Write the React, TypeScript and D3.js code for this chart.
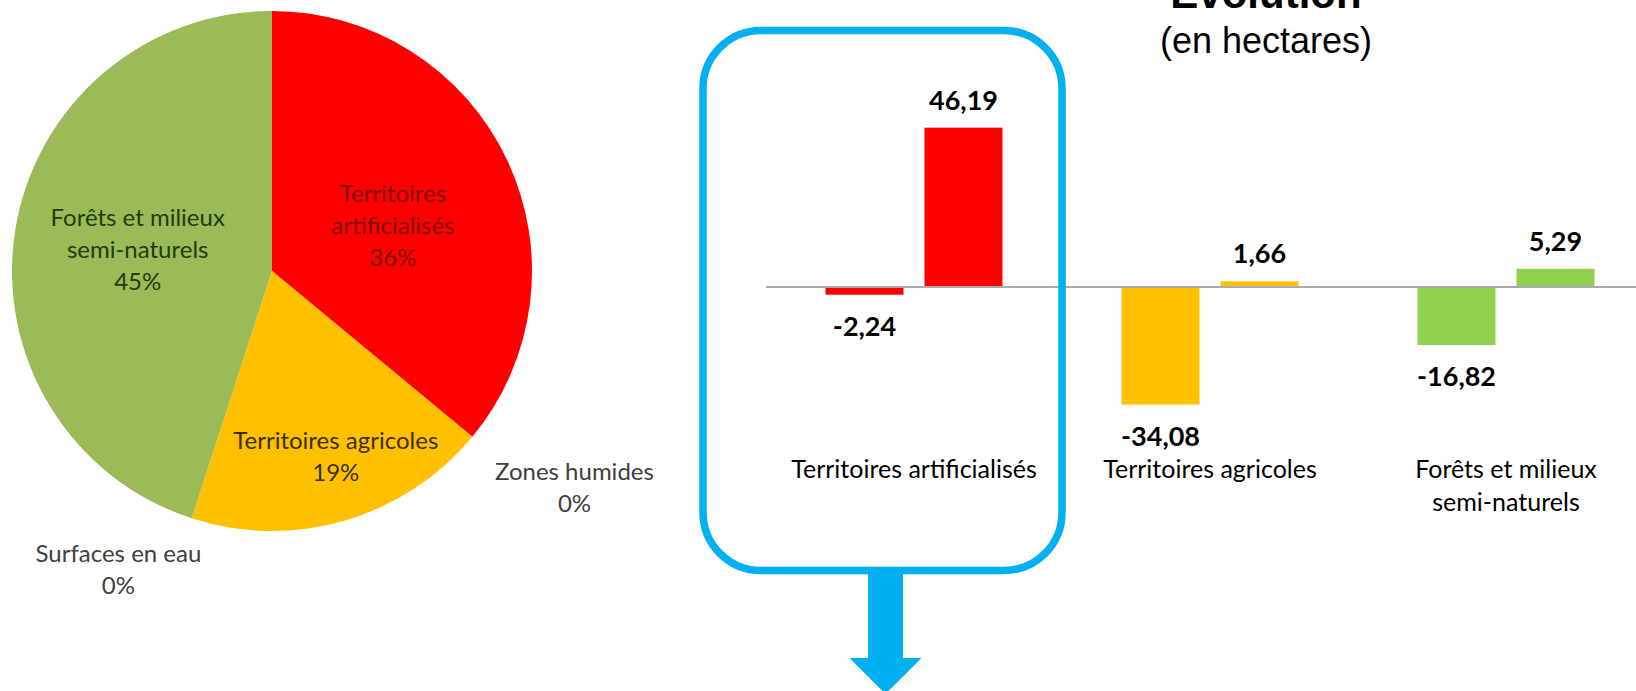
import React, { useEffect, useRef } from 'react';
import * as d3 from 'd3';

// Pie: land cover shares (%), clockwise from 12 o'clock
const pieNames = [
  'Territoires artificialisés',
  'Zones humides',
  'Territoires agricoles',
  'Surfaces en eau',
  'Forêts et milieux semi-naturels',
];
const pieNameLines = [
  ['Territoires', 'artificialisés'],
  ['Zones humides'],
  ['Territoires agricoles'],
  ['Surfaces en eau'],
  ['Forêts et milieux', 'semi-naturels'],
];
const pieShares = [36, 0, 19, 0, 45];

// Bars: change in hectares
const barCategories = [
  'Territoires artificialisés',
  'Territoires agricoles',
  'Forêts et milieux semi-naturels',
];
const barCategoryLines = [
  ['Territoires artificialisés'],
  ['Territoires agricoles'],
  ['Forêts et milieux', 'semi-naturels'],
];
const seriesKeys = ['lost', 'gained'];
const lostHa = [-2.24, -34.08, -16.82];
const gainedHa = [46.19, 1.66, 5.29];

const W = 1636;
const H = 691;

export default function App() {
  const svgRef = useRef<SVGSVGElement>(null);

  useEffect(() => {
    if (!svgRef.current) return;
    const svg = d3.select(svgRef.current);
    svg.selectAll('*').remove();

    // ---------- pie ----------
    const pieColors = ['#FF0000', '#FFC000', '#FFC000', '#9BBB59', '#9BBB59'];
    const pieTextColors = ['#7a0c06', '#404040', '#3d2f00', '#404040', '#223c0c'];
    // label placement (radius, angle nudge in degrees) – Excel "best fit" look
    const labelR = [129, 372, 197, 336, 136];
    const labelNudge = [4.8, -4, -2.7, 9.2, 0];

    const cx = 272, cy = 271, r = 260;
    const pieG = svg.append('g').attr('transform', `translate(${cx},${cy})`);
    const arcs = d3.pie<number>().sort(null).value(d => d)(pieShares);
    const arc = d3.arc<d3.PieArcDatum<number>>().innerRadius(0).outerRadius(r);

    pieG.selectAll('path.slice')
      .data(arcs.filter(d => d.value > 0))
      .join('path')
      .attr('class', 'slice')
      .attr('d', arc)
      .attr('fill', d => pieColors[d.index]);

    arcs.forEach((d, i) => {
      const a = (d.startAngle + d.endAngle) / 2 + (labelNudge[i] * Math.PI) / 180;
      const lx = labelR[i] * Math.sin(a);
      const ly = -labelR[i] * Math.cos(a);
      const lines = [...pieNameLines[i], `${pieShares[i]}%`];
      const lh = 32;
      const t = pieG.append('text')
        .attr('text-anchor', 'middle')
        .attr('fill', pieTextColors[i])
        .style('font-family', 'Lato, "Open Sans", sans-serif')
        .style('font-size', '24px');
      lines.forEach((ln, k) => {
        t.append('tspan')
          .attr('x', lx)
          .attr('y', ly + (k - (lines.length - 1) / 2) * lh + 8)
          .text(ln);
      });
    });

    // ---------- bar chart ----------
    const x0 = d3.scaleBand().domain(barCategories).range([766, 1654]).paddingInner(0).paddingOuter(0);
    const x1 = d3.scaleBand().domain(seriesKeys).range([59.5, 236.5]).paddingInner(0.212);
    const y = d3.scaleLinear().domain([-40, 50]).range([287 + 40 * 3.45, 287 - 50 * 3.45]);
    const barColors = ['#FF0000', '#FFC000', '#92D050'];

    const fr = d3.formatLocale({ decimal: ',', thousands: ' ', grouping: [3], currency: ['', ' €'], minus: '-' });
    const fmt = fr.format('.2f');

    const rows = barCategories.map((c, i) => ({ cat: c, i, lost: lostHa[i], gained: gainedHa[i] }));

    const groups = svg.append('g').selectAll('g')
      .data(rows)
      .join('g')
      .attr('transform', d => `translate(${x0(d.cat)},0)`);

    groups.selectAll('rect')
      .data(d => seriesKeys.map(k => ({ key: k, v: (d as any)[k] as number, i: d.i })))
      .join('rect')
      .attr('x', d => x1(d.key)!)
      .attr('width', x1.bandwidth())
      .attr('y', d => y(Math.max(0, d.v)))
      .attr('height', d => Math.abs(y(d.v) - y(0)))
      .attr('fill', d => barColors[d.i]);

    groups.selectAll('text.val')
      .data(d => seriesKeys.map(k => ({ key: k, v: (d as any)[k] as number })))
      .join('text')
      .attr('class', 'val')
      .attr('x', d => x1(d.key)! + x1.bandwidth() / 2)
      .attr('y', d => (d.v >= 0 ? y(d.v) - 18 : y(d.v) + 41))
      .attr('text-anchor', 'middle')
      .attr('fill', '#000')
      .style('font-family', 'Lato, "Open Sans", sans-serif')
      .style('font-weight', 700)
      .style('font-size', '27px')
      .text(d => fmt(d.v));

    // zero axis
    svg.append('line')
      .attr('x1', x0.range()[0])
      .attr('x2', x0.range()[1])
      .attr('y1', y(0))
      .attr('y2', y(0))
      .attr('stroke', '#ABABAB')
      .attr('stroke-width', 2);

    // category labels
    rows.forEach(d => {
      const t = svg.append('text')
        .attr('text-anchor', 'middle')
        .attr('fill', '#000')
        .style('font-family', 'Lato, "Open Sans", sans-serif')
        .style('font-size', '25px');
      barCategoryLines[d.i].forEach((ln, k) => {
        t.append('tspan')
          .attr('x', x0(d.cat)! + x0.bandwidth() / 2)
          .attr('y', 478 + k * 33)
          .text(ln);
      });
    });

    // title (partly cut off at the top, as in the source)
    const titleX = 1266;
    svg.append('text')
      .attr('x', titleX)
      .attr('y', 8)
      .attr('text-anchor', 'middle')
      .style('font-family', '"Liberation Sans", Arial, sans-serif')
      .style('font-weight', 700)
      .style('font-size', '42px')
      .text('Évolution');
    svg.append('text')
      .attr('x', titleX)
      .attr('y', 53)
      .attr('text-anchor', 'middle')
      .style('font-family', '"Liberation Sans", Arial, sans-serif')
      .style('font-size', '36px')
      .text('(en hectares)');

    // highlight box around first category + arrow
    const blue = '#00B0F0';
    const bx = x0(barCategories[0])! - 63;
    const bw = x0.bandwidth() + 63;
    const by = 30.5, bh = 540;
    svg.append('rect')
      .attr('x', bx).attr('y', by)
      .attr('width', bw).attr('height', bh)
      .attr('rx', 58).attr('ry', 58)
      .attr('fill', 'none')
      .attr('stroke', blue)
      .attr('stroke-width', 7.5);

    const ax = bx + bw / 2 + 3;
    const arrowPts: [number, number][] = [
      [ax - 17.5, by + bh], [ax + 17.5, by + bh], [ax + 17.5, 658], [ax + 36, 658],
      [ax, 694], [ax - 36, 658], [ax - 17.5, 658],
    ];
    svg.append('path')
      .attr('d', d3.line()(arrowPts) + 'Z')
      .attr('fill', blue);
  }, []);

  return (
    <div style={{ position: 'absolute', left: 0, top: 0, width: W, height: H, background: '#fff' }}>
      <svg ref={svgRef} width={W} height={H} viewBox={`0 0 ${W} ${H}`} style={{ display: 'block' }} />
    </div>
  );
}
